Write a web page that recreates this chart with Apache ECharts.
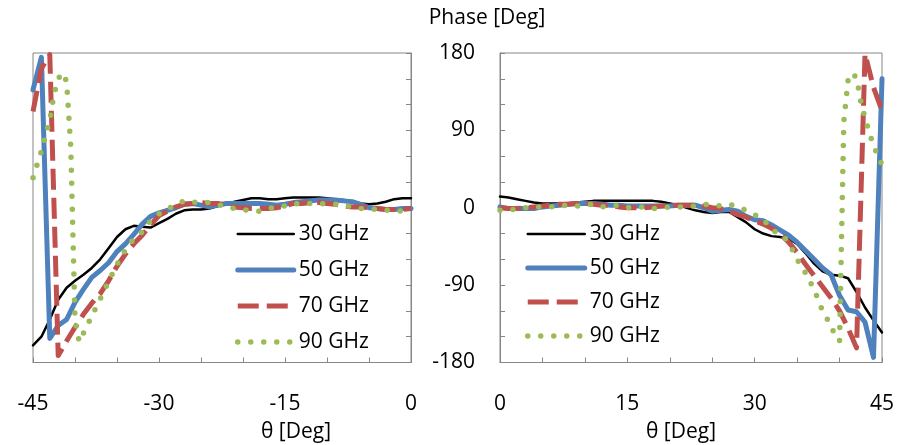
<!DOCTYPE html>
<html>
<head>
<meta charset="utf-8">
<script src="https://cdn.jsdelivr.net/npm/echarts@6/dist/echarts.min.js"></script>
<style>
html,body{margin:0;padding:0;background:#fff;}
#chart{width:898px;height:445px;}
</style>
</head>
<body>
<div id="chart"></div>
<script>
// ---------- data ----------
const seriesNames = ['30 GHz', '50 GHz', '70 GHz', '90 GHz'];

const thetaLeft = [-45,-44,-43,-42,-41,-40,-39,-38,-37,-36,-35,-34,-33,-32,-31,-30,-29,-28,-27,-26,-25,-24,-23,-22,-21,-20,-19,-18,-17,-16,-15,-14,-13,-12,-11,-10,-9,-8,-7,-6,-5,-4,-3,-2,-1,0];
const left30 = [-160,-150,-130,-107,-93,-85,-78,-70,-60,-47,-34,-25,-21,-22,-23,-18,-13,-7,-3,-2,-2,-1,2,4,7,9,11,11,10,10,11,12,12,12,12,11,10,9,7,5,4,5,7,10,11,11];
const left50 = [137,175,-152,-137,-130,-110,-95,-81,-73,-64,-51,-42,-31,-19,-10,-6,-3,0,4,5,3,1,3,5,5,5,5,5,4,3,4,6,7,8,9,9,9,8,7,4,0,-1,-2,-2,-1,-1];
const left70 = [112,162,178,-172,-155,-139,-124,-111,-100,-85,-68,-54,-42,-32,-20,-9,-4,1,4,5,6,5,5,3,1,0,-1,-1,-1,0,2,5,5,6,6,5,4,2,1,1,0,-1,-2,-2,-2,-1];
const thetaLeft90 = [-45,-44,-43,-42.5,-42,-41.5,-41,-40.5,-40,-39.5,-39,-38,-37,-36,-35,-34,-33,-32,-31,-30,-29,-28,-27,-26,-25,-24,-23,-22,-21,-20,-19,-18,-17,-16,-15,-14,-13,-12,-11,-10,-9,-8,-7,-6,-5,-4,-3,-2,-1,0];
const left90 = [35,66,102,132,150,157,147,70,-130,-156,-146,-126,-106,-86,-66,-49,-36,-28,-15,-7,-2,4,8,6,7,6,4,1,-1,-2,-4,-4,-1,1,2,5,4,5,5,4,4,3,1,-1,-1,-2,-3,-3,-4,-5];

const thetaRight = [0,1,2,3,4,5,6,7,8,9,10,11,12,13,14,15,16,17,18,19,20,21,22,23,24,25,26,27,28,29,30,31,32,33,34,35,36,37,38,39,40,41,42,43,44,45];
const right30 = [13,12,10,8,6,5,5,5,5,6,7,8,8,8,8,8,8,8,8,7,5,3,0,-3,-5,-6,-5,-5,-11,-17,-25,-30,-33,-34,-36,-42,-53,-65,-74,-78,-79,-82,-98,-116,-131,-145];
const right50 = [1,-1,-1,-1,-1,1,2,3,4,5,5,5,4,3,3,2,2,2,2,2,2,3,3,3,0,-4,-3,-2,-4,-10,-14,-15,-20,-26,-32,-40,-50,-60,-70,-78,-102,-119,-121,-133,-174,150];
const right70 = [0,-1,-1,0,1,2,3,4,4,5,5,4,3,3,1,0,0,0,1,2,3,3,3,3,2,0,-1,-4,-8,-11,-15,-19,-24,-30,-40,-52,-66,-79,-92,-105,-120,-140,-163,179,140,113];
const thetaRight90 = [0,1,2,3,4,5,6,7,8,9,10,11,12,13,14,15,16,17,18,19,20,21,22,23,24,25,26,27,28,29,30,31,32,33,34,35,36,37,38,39,39.5,40,40.5,41,41.5,42,42.5,43,44,45];
const right90 = [-3,-2,-2,0,1,1,1,2,3,2,3,4,1,2,3,0,1,1,-1,0,1,1,1,2,4,3,2,4,1,-3,-8,-13,-26,-30,-40,-60,-76,-95,-120,-137,-150,-155,100,148,157,151,124,104,72,50];

const xLabelsLeft = [-45, -30, -15, 0];
const xLabelsRight = [0, 15, 30, 45];
const yLabels = [-180, -90, 0, 90, 180];

// ---------- styles ----------
const FONT = 'Open Sans';
const axisGray = '#868686';
const styles = [
  { color: '#000000', width: 2.5, type: 'solid', cap: 'round' },
  { color: '#4F81BD', width: 5, type: 'solid', cap: 'round' },
  { color: '#C0504D', width: 5, type: [21, 8], cap: 'butt' },
  { color: '#9BBB59', width: 5.5, type: [0, 13], cap: 'round' }
];

const pairs = (xs, ys) => xs.map((x, i) => [x, ys[i]]);

const leftData = [pairs(thetaLeft, left30), pairs(thetaLeft, left50), pairs(thetaLeft, left70), pairs(thetaLeft90, left90)];
const rightData = [pairs(thetaRight, right30), pairs(thetaRight, right50), pairs(thetaRight, right70), pairs(thetaRight90, right90)];

function makeSeries(dataSets, idx) {
  return dataSets.map((d, i) => ({
    name: seriesNames[i],
    type: 'line',
    xAxisIndex: idx,
    yAxisIndex: idx,
    data: d,
    symbol: 'none',
    showSymbol: false,
    clip: true,
    z: 2 + i,
    lineStyle: {
      color: styles[i].color,
      width: styles[i].width,
      type: styles[i].type,
      cap: styles[i].cap,
      join: 'round'
    },
    itemStyle: { color: styles[i].color }
  }));
}

function xAxis(idx, min, max, labels) {
  return {
    type: 'value', gridIndex: idx, min: min, max: max, interval: 5, position: 'bottom',
    axisLine: { show: true, onZero: false, lineStyle: { color: axisGray, width: 1 } },
    axisTick: { show: true, inside: true, length: 5, lineStyle: { color: axisGray } },
    splitLine: { show: false },
    axisLabel: {
      show: true, margin: 31, color: '#000', fontFamily: FONT, fontSize: 21,
      showMinLabel: true, showMaxLabel: true,
      formatter: v => (labels.indexOf(v) >= 0 ? String(v) : '')
    }
  };
}

function yAxis(idx, position, showLabels) {
  return {
    type: 'value', gridIndex: idx, min: -180, max: 180, interval: 30, position: position,
    axisLine: { show: true, onZero: false, lineStyle: { color: axisGray, width: 1 } },
    axisTick: { show: true, inside: true, length: 5, lineStyle: { color: axisGray } },
    splitLine: { show: false },
    axisLabel: {
      show: showLabels, margin: 25, color: '#000', fontFamily: FONT, fontSize: 21,
      showMinLabel: true, showMaxLabel: true,
      formatter: v => (yLabels.indexOf(v) >= 0 ? String(v) : '')
    }
  };
}

function legend(left, top, gap, width) {
  return {
    orient: 'vertical', left: left, top: top, padding: 0,
    itemWidth: width, itemHeight: 24, itemGap: gap,
    selectedMode: false,
    data: seriesNames,
    itemStyle: { opacity: 0 },
    lineStyle: { width: 'inherit', type: 'inherit', cap: 'inherit' },
    textStyle: { fontFamily: FONT, fontSize: 21, color: '#000', lineHeight: 24 }
  };
}

const option = {
  animation: false,
  backgroundColor: '#ffffff',
  textStyle: { fontFamily: FONT },
  grid: [
    { left: 33, top: 53, width: 378, height: 309.5, show: true, borderColor: axisGray, borderWidth: 1, backgroundColor: 'transparent' },
    { left: 500, top: 53, width: 382, height: 309.5, show: true, borderColor: axisGray, borderWidth: 1, backgroundColor: 'transparent' }
  ],
  xAxis: [xAxis(0, -45, 0, xLabelsLeft), xAxis(1, 0, 45, xLabelsRight)],
  yAxis: [yAxis(0, 'right', false), yAxis(1, 'left', true)],
  legend: [legend(235, 222, 12, 56), legend(525, 222, 10, 57)],
  graphic: [
    { type: 'text', x: 487, y: 18, style: { text: 'Phase [Deg]', font: '21px "Open Sans"', fill: '#000', textAlign: 'center', textVerticalAlign: 'middle' } },
    { type: 'text', x: 296, y: 432, style: { text: 'θ [Deg]', font: '21px "Open Sans"', fill: '#000', textAlign: 'center', textVerticalAlign: 'middle' } },
    { type: 'text', x: 681, y: 432, style: { text: 'θ [Deg]', font: '21px "Open Sans"', fill: '#000', textAlign: 'center', textVerticalAlign: 'middle' } }
  ],
  series: makeSeries(leftData, 0).concat(makeSeries(rightData, 1))
};

const chart = echarts.init(document.getElementById('chart'), null, { renderer: 'canvas' });
chart.setOption(option);
</script>
</body>
</html>
